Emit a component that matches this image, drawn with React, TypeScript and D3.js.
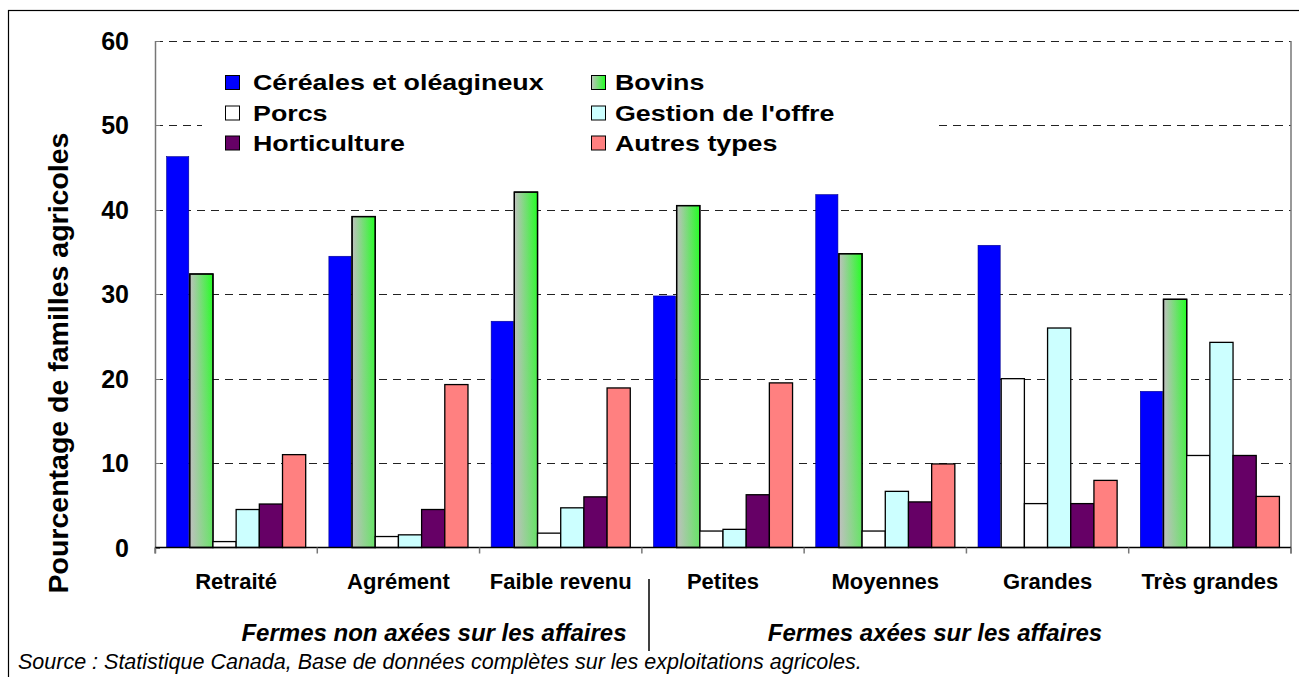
import React from "react";
import * as d3 from "d3";

const categories = ["Retraité", "Agrément", "Faible revenu", "Petites", "Moyennes", "Grandes", "Très grandes"];
const seriesNames = ["Céréales et oléagineux", "Bovins", "Porcs", "Gestion de l'offre", "Horticulture", "Autres types"];
const cereales = [46.3, 34.5, 26.8, 29.8, 41.8, 35.8, 18.5];
const bovins = [32.4, 39.2, 42.1, 40.5, 34.8, 20.0, 29.4];
const porcs = [0.7, 1.3, 1.7, 1.95, 1.95, 5.2, 10.9];
const gestion = [4.5, 1.5, 4.7, 2.15, 6.65, 26.0, 24.3];
const horticulture = [5.15, 4.5, 6.0, 6.25, 5.4, 5.2, 10.9];
const autres = [11.0, 19.3, 18.9, 19.5, 9.9, 7.95, 6.05];
const yTicks = [0, 10, 20, 30, 40, 50, 60];
const groupLabels = ["Fermes non axées sur les affaires", "Fermes axées sur les affaires"];
const sourceText = "Source : Statistique Canada, Base de données complètes sur les exploitations agricoles.";
const yTitle = "Pourcentage de familles agricoles";

const seriesValues = [cereales, bovins, porcs, gestion, horticulture, autres];
const fills = ["#0000ff", "url(#bovGrad)", "#ffffff", "#ccffff", "#660066", "#ff8080"];

export default function App() {
  const left = 155, right = 1291, top = 41, bottom = 547.5;
  const y = d3.scaleLinear().domain([0, 60]).range([bottom, top]);
  const x0 = d3.scaleBand<string>().domain(categories).range([left, right]).padding(0);
  const x1 = d3.scaleBand<string>().domain(seriesNames).range([0, x0.bandwidth()]).paddingInner(0).paddingOuter(0.5);
  const font = "'Liberation Sans', Arial, Helvetica, sans-serif";

  const legendPos = [
    { sx: 225, tx: 253, by: 90 },
    { sx: 591, tx: 615, by: 90 },
    { sx: 225, tx: 253, by: 120.5 },
    { sx: 591, tx: 615, by: 120.5 },
    { sx: 225, tx: 253, by: 150.5 },
    { sx: 591, tx: 615, by: 150.5 },
  ];

  const boundaries = d3.range(categories.length + 1).map((i) => left + i * x0.step());

  return (
    <svg width={1299} height={677} style={{ position: "absolute", left: 0, top: 0, background: "#fff" }} fontFamily={font}>
      <defs>
        <linearGradient id="bovGrad" x1="0" y1="0" x2="1" y2="0">
          <stop offset="0" stopColor="#c0c0c0" />
          <stop offset="1" stopColor="#22ff22" />
        </linearGradient>
        <linearGradient id="bovFade" x1="0" y1="0" x2="0" y2="1">
          <stop offset="0" stopColor="#c0c0c0" stopOpacity="0" />
          <stop offset="1" stopColor="#c0c0c0" stopOpacity="0.45" />
        </linearGradient>
      </defs>
      <rect x={0} y={0} width={1299} height={677} fill="#fff" />
      <rect x={8.5} y={10.5} width={1400} height={800} fill="none" stroke="#000" strokeWidth={1.2} />

      {yTicks.filter((t) => t > 0).map((t) => (
        <line key={t} x1={left} x2={right} y1={Math.round(y(t)) + 0.5} y2={Math.round(y(t)) + 0.5}
          stroke="#222" strokeWidth={1} strokeDasharray="8,6" />
      ))}

      <rect x={202} y={58} width={736} height={98} fill="#fff" />

      {categories.map((c, ci) => (
        <g key={c} transform={`translate(${x0(c)},0)`}>
          {seriesNames.map((s, si) => {
            const v = seriesValues[si][ci];
            const bx = x1(s)!;
            const bw = x1.bandwidth();
            const by = y(v);
            const bh = y(0) - y(v);
            const isBlue = si === 0;
            let fill = fills[si];
            if (si === 1 && c === "Grandes") fill = "#ffffff";
            return (
              <g key={s}>
                <rect x={bx} y={by} width={isBlue ? bw - 1 : bw} height={bh} fill={fill}
                  stroke={isBlue ? "#00008a" : "#000"} strokeWidth={isBlue ? 0.6 : 1.3} />
                {si === 1 && c !== "Grandes" && (
                  <rect x={bx} y={by} width={bw} height={bh} fill="url(#bovFade)" stroke="#000" strokeWidth={1.3} />
                )}
              </g>
            );
          })}
        </g>
      ))}

      <line x1={left + 0.5} x2={left + 0.5} y1={top} y2={bottom + 6} stroke="#777" strokeWidth={1.5} />
      <line x1={right} x2={right} y1={top} y2={bottom + 6} stroke="#777" strokeWidth={1.5} />
      {yTicks.map((t) => (
        <line key={t} x1={left} x2={left + 5} y1={Math.round(y(t)) + 0.5} y2={Math.round(y(t)) + 0.5} stroke="#777" strokeWidth={1} />
      ))}
      <line x1={left} x2={right} y1={bottom} y2={bottom} stroke="#000" strokeWidth={1.5} />
      {boundaries.map((bx, i) => (
        <line key={i} x1={bx} x2={bx} y1={bottom} y2={bottom + 6} stroke="#777" strokeWidth={1.5} />
      ))}

      {yTicks.map((t) => (
        <text key={t} x={129} y={y(t) + 9} textAnchor="end" fontSize={25} fontWeight="bold">{t}</text>
      ))}

      <text transform={`translate(68,${(130 + 596) / 2}) rotate(-90)`} textAnchor="middle" fontSize={28.5} fontWeight="bold">{yTitle}</text>

      {categories.map((c) => (
        <text key={c} x={x0(c)! + x0.bandwidth() / 2} y={589} textAnchor="middle" fontSize={22} fontWeight="bold">{c}</text>
      ))}

      <text x={434} y={641} textAnchor="middle" fontSize={24} fontWeight="bold" fontStyle="italic">{groupLabels[0]}</text>
      <text x={935} y={641} textAnchor="middle" fontSize={24} fontWeight="bold" fontStyle="italic">{groupLabels[1]}</text>
      <line x1={649} x2={649} y1={579} y2={651} stroke="#000" strokeWidth={1.5} />

      <text x={18} y={669} fontSize={21.5} fontStyle="italic">{sourceText}</text>

      {seriesNames.map((s, i) => {
        const p = legendPos[i];
        return (
          <g key={s}>
            <rect x={p.sx + 0.5} y={p.by - 14.5} width={14} height={14} fill={fills[i]} stroke="#000" strokeWidth={1} />
            <text transform={`translate(${p.tx},${p.by}) scale(1.22,1)`} fontSize={22} fontWeight="bold">{s}</text>
          </g>
        );
      })}
    </svg>
  );
}
